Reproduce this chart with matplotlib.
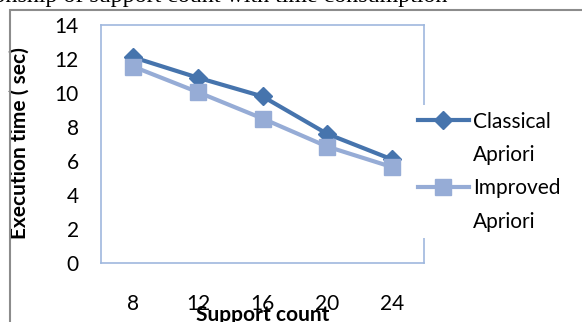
import matplotlib.pyplot as plt
from matplotlib.lines import Line2D
from matplotlib.patches import Rectangle

support = ["8", "12", "16", "20", "24"]
classical = [12.1, 10.9, 9.8, 7.6, 6.1]
improved = [11.55, 10.05, 8.5, 6.85, 5.65]
series_names = [("Classical", "Apriori"), ("Improved", "Apriori")]

W, H = 582, 322
plt.rcParams["font.family"] = ["Lato", "DejaVu Sans"]

fig = plt.figure(figsize=(W / 100, H / 100), dpi=100)

# outer chart border (runs off the right and bottom edges)
fig.patches.append(Rectangle((10 / W, -0.1), 1.2, 1 - 10 / H + 0.1,
                             transform=fig.transFigure, fill=False,
                             edgecolor="#8c8c8c", linewidth=1.5))

# cut-off caption above the chart
fig.text(447 / W, 1 - 2 / H, "Fig. 4 Relationship of support count with time consumption",
         ha="right", va="baseline", family="Liberation Serif", fontsize=17.3)

ax = fig.add_axes([101 / W, 1 - 263 / H, 323 / W, 238 / H])
x = range(len(support))
l1, = ax.plot(x, classical, color="#4674ad", linewidth=3, marker="D",
              markersize=9, zorder=3)
l2, = ax.plot(x, improved, color="#96acd6", linewidth=3, marker="s",
              markersize=12, zorder=4)

ax.set_xlim(-0.5, len(support) - 0.5)
ax.set_ylim(0, 14)
ax.set_yticks(range(0, 15, 2))
ax.set_xticks(list(x))
ax.set_xticklabels(support)
ax.tick_params(axis="both", length=0, labelsize=15)
ax.tick_params(axis="y", pad=16)
ax.tick_params(axis="x", pad=22)
for s in ax.spines.values():
    s.set_color("#9fb8de")
    s.set_linewidth(1.2)

ax.set_xlabel("Support count", fontsize=15, fontweight="bold", va="baseline")
ax.xaxis.set_label_coords(0.5, -0.243)
ax.set_ylabel("Execution time ( sec)", fontsize=15, fontweight="bold")
ax.yaxis.set_label_coords(-0.22, 0.504)

# legend: handle sits next to the first line of each two-line name
blank = Line2D([], [], linestyle="none")
handles = [l1, blank, l2, blank]
labels = [series_names[0][0], series_names[0][1],
          series_names[1][0], series_names[1][1]]
leg = ax.legend(handles, labels, loc="upper left",
                bbox_to_anchor=(401 / W, 1 - 95 / H),
                bbox_transform=fig.transFigure, fontsize=15, frameon=True,
                facecolor="white", edgecolor="none", framealpha=1,
                handlelength=2.45, handletextpad=0.2, labelspacing=0.64,
                borderpad=0.3)
leg.get_frame().set_boxstyle("square", pad=0)

fig.savefig("out.png", dpi=100)
